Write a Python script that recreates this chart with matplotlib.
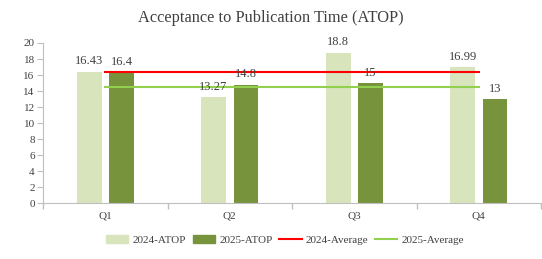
import numpy as np
import matplotlib.pyplot as plt
from matplotlib.patches import Patch
from matplotlib.lines import Line2D

quarters = ["Q1", "Q2", "Q3", "Q4"]
atop_2024 = [16.43, 13.27, 18.8, 16.99]
atop_2025 = [16.4, 14.8, 15, 13]
# average lines
avg_2024 = [16.4, 16.4, 16.4, 16.4]
avg_2025 = [14.5, 14.5, 14.5, 14.5]

c24 = "#D8E4BC"
c25 = "#77933C"
red = "#FF0000"
lgreen = "#92D050"
txt = "#404040"
axc = "#BFBFBF"

plt.rcParams['font.family'] = ['Liberation Serif', 'DejaVu Serif']

fig = plt.figure(figsize=(5.42, 2.59), dpi=100)
ax = fig.add_axes([0.0793, 0.216, 0.919, 0.618])

x = np.arange(len(quarters))
w = 0.2
off = 0.13
ax.bar(x - off, atop_2024, w, color=c24, zorder=2)
ax.bar(x + off, atop_2025, w, color=c25, zorder=2)
ax.plot(x, avg_2024, color=red, lw=1.5, zorder=3)
ax.plot(x, avg_2025, color=lgreen, lw=1.5, zorder=3)

for xs, vals in ((x - off, atop_2024), (x + off, atop_2025)):
    for xi, v in zip(xs, vals):
        ax.annotate(f"{v:g}", (xi, v), xytext=(0, 3), textcoords="offset points",
                    ha="center", va="bottom", fontsize=9, color=txt, zorder=4)

ax.set_xlim(-0.5, 3.5)
ax.set_ylim(0, 20)
ax.set_yticks(range(0, 21, 2))
ax.set_xticks(x)
ax.set_xticklabels(quarters)
ax.set_xticks(np.arange(-0.5, 4, 1), minor=True)
ax.tick_params(axis="x", which="major", length=0, pad=6, labelsize=8, colors=txt)
ax.tick_params(axis="x", which="minor", length=4, color=axc, width=1)
ax.tick_params(axis="y", length=4, color=axc, labelsize=8, labelcolor=txt, pad=2)
for s in ("top", "right"):
    ax.spines[s].set_visible(False)
ax.spines["left"].set_color(axc)
ax.spines["bottom"].set_color(axc)

fig.text(0.5, 0.93, "Acceptance to Publication Time (ATOP)", ha="center", va="center",
         fontsize=11.8, color=txt)

handles = [Patch(color=c24), Patch(color=c25),
           Line2D([], [], color=red, lw=1.5), Line2D([], [], color=lgreen, lw=1.5)]
labels = ["2024-ATOP", "2025-ATOP", "2024-Average", "2025-Average"]
fig.legend(handles, labels, loc="center", bbox_to_anchor=(0.526, 0.072), ncol=4, frameon=False,
           fontsize=8, labelcolor=txt, handlelength=2.0, handleheight=0.7,
           handletextpad=0.4, columnspacing=0.6)

fig.savefig("out.png", dpi=100)
